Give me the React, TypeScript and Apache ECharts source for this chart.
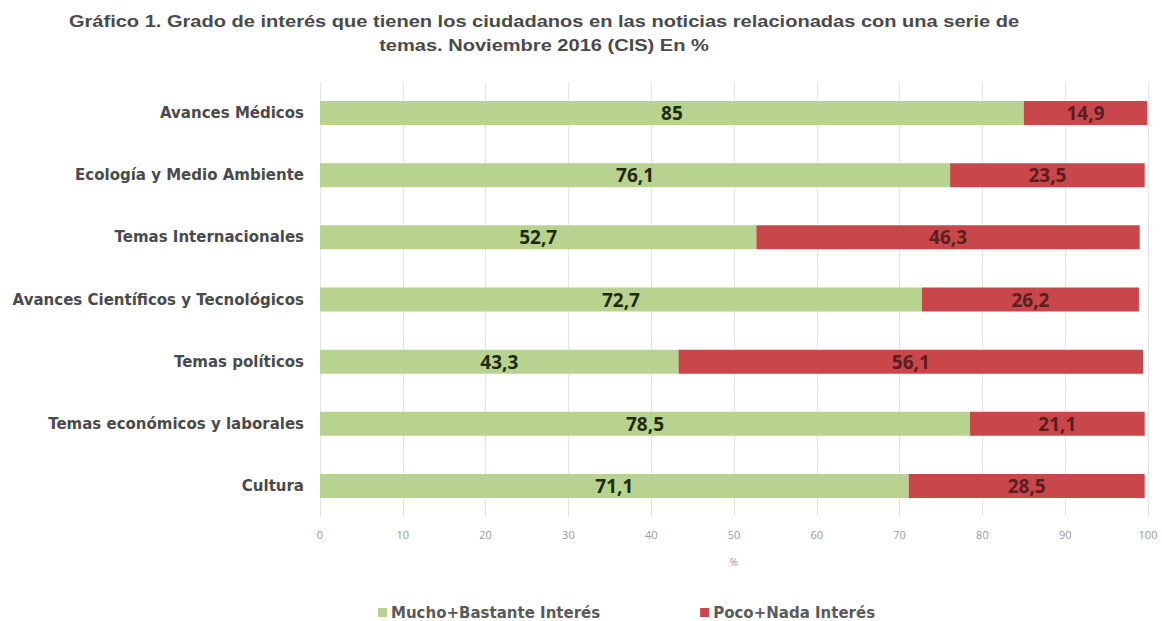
import React, { useEffect, useRef } from "react";
import * as echarts from "echarts";

const categories = [
  "Avances Médicos",
  "Ecología y Medio Ambiente",
  "Temas Internacionales",
  "Avances Científicos y Tecnológicos",
  "Temas políticos",
  "Temas económicos y laborales",
  "Cultura",
];
const muchoBastante = [85, 76.1, 52.7, 72.7, 43.3, 78.5, 71.1];
const pocoNada = [14.9, 23.5, 46.3, 26.2, 56.1, 21.1, 28.5];
const seriesNames = ["Mucho+Bastante Interés", "Poco+Nada Interés"];
const titleLines = [
  "Gráfico 1. Grado de interés que tienen los ciudadanos en las noticias relacionadas con una serie de",
  "temas. Noviembre 2016 (CIS) En %",
];

const fmt = (v: number) => String(v).replace(".", ",");

export default function App() {
  const ref = useRef<HTMLDivElement>(null);
  useEffect(() => {
    if (!ref.current) return;
    const chart = echarts.init(ref.current, undefined, { renderer: "svg" });
    chart.setOption({
      animation: false,
      backgroundColor: "#ffffff",
      graphic: [
        {
          type: "text",
          x: 544,
          y: 9,
          scaleX: 1.18,
          style: {
            text: titleLines.join("\n"),
            align: "center",
            verticalAlign: "top",
            fontFamily: "Liberation Sans",
            fontSize: 17,
            fontWeight: "bold",
            lineHeight: 24,
            fill: "#4a4a4a",
          },
        },
      ],
      legend: {
        data: seriesNames,
        top: 600,
        left: 373,
        itemGap: 100,
        itemWidth: 9,
        itemHeight: 9,
        icon: "rect",
        textStyle: {
          fontFamily: "DejaVu Sans",
          fontSize: 15,
          fontWeight: "bold",
          color: "#5a5a5a",
          padding: [0, 0, 0, -1],
        },
      },
      grid: { left: 320, right: 14, top: 82, height: 435 },
      xAxis: {
        type: "value",
        min: 0,
        max: 100,
        interval: 10,
        name: "%",
        nameLocation: "middle",
        nameGap: 40,
        nameTextStyle: { fontFamily: "Open Sans", fontSize: 10, color: "#999" },
        axisLine: { show: false },
        axisTick: { show: false },
        axisLabel: { fontFamily: "Open Sans", fontSize: 11, color: "#999", margin: 12 },
        splitLine: { lineStyle: { color: "#e4e4e4" } },
      },
      yAxis: {
        type: "category",
        data: categories,
        inverse: true,
        axisLine: { show: false },
        axisTick: { show: false },
        axisLabel: {
          fontFamily: "DejaVu Sans",
          fontSize: 15,
          fontWeight: "bold",
          color: "#4a4a4a",
          margin: 16,
        },
      },
      series: [
        {
          name: seriesNames[0],
          type: "bar",
          stack: "total",
          barWidth: 24,
          data: muchoBastante,
          itemStyle: { color: "#b8d38f" },
          label: {
            show: true,
            position: "inside",
            formatter: (p: any) => fmt(p.value),
            fontFamily: "Open Sans",
            fontSize: 19,
            fontWeight: "bold",
            color: "#1e2b12",
          },
        },
        {
          name: seriesNames[1],
          type: "bar",
          stack: "total",
          barWidth: 24,
          data: pocoNada,
          itemStyle: { color: "#c9474a" },
          label: {
            show: true,
            position: "inside",
            formatter: (p: any) => fmt(p.value),
            fontFamily: "Open Sans",
            fontSize: 19,
            fontWeight: "bold",
            color: "#5a1e1e",
          },
        },
      ],
    });
    return () => chart.dispose();
  }, []);
  return <div ref={ref} style={{ width: 1162, height: 621, position: "absolute", left: 0, top: 0 }} />;
}
